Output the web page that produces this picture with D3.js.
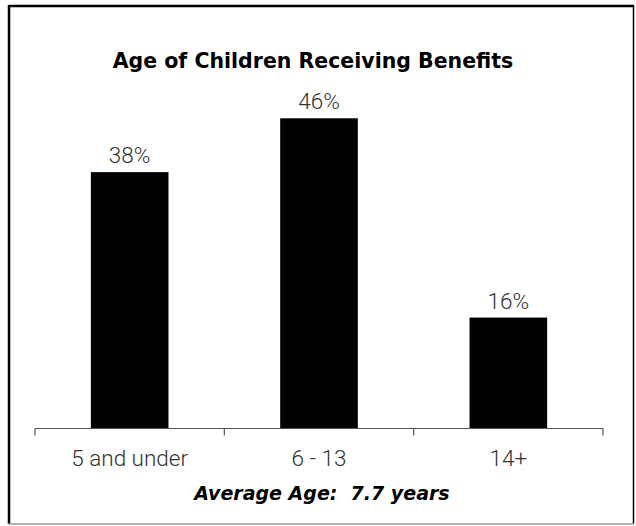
<!DOCTYPE html>
<html><head><meta charset="utf-8">
<script src="https://cdn.jsdelivr.net/npm/d3@7"></script>
<style>body{margin:0;background:#fff}svg{display:block}</style>
</head><body>
<svg id="c" width="636" height="526"></svg>
<script>
const categories = ["5 and under", "6 - 13", "14+"];
const values = [38.0, 46.0, 16.4];
const valueLabels = ["38%", "46%", "16%"];
const title = "Age of Children Receiving Benefits";
const footnote = "Average Age:  7.7 years";

const svg = d3.select("#c");
// frame
svg.append("line").attr("x1",9).attr("x2",634).attr("y1",6).attr("y2",6).attr("stroke","#000").attr("stroke-width",2.5);
svg.append("line").attr("x1",9).attr("x2",9).attr("y1",5).attr("y2",524).attr("stroke","#000").attr("stroke-width",2.5);
svg.append("line").attr("x1",633.5).attr("x2",633.5).attr("y1",5).attr("y2",524).attr("stroke","#000").attr("stroke-width",1.5);
svg.append("line").attr("x1",8).attr("x2",634).attr("y1",524).attr("y2",524).attr("stroke","#999").attr("stroke-width",1.5);

const x = d3.scaleBand().domain(categories).range([35, 603]).paddingInner(0.59).paddingOuter(0.295);
const y = d3.scaleLinear().domain([0, 50]).range([428, 91.35]);

svg.append("g").selectAll("rect").data(values).join("rect")
  .attr("x",(d,i)=>x(categories[i])).attr("width",x.bandwidth())
  .attr("y",d=>y(d)).attr("height",d=>y(0)-y(d)).attr("fill","#000");

svg.append("g").selectAll("text").data(values).join("text")
  .attr("x",(d,i)=>x(categories[i])+x.bandwidth()/2).attr("y",d=>y(d)-9)
  .attr("text-anchor","middle").attr("font-family","Roboto").attr("font-weight",300)
  .attr("font-size",22.5).attr("fill","#333").text((d,i)=>valueLabels[i]);

// axis
const xa = d3.scaleLinear().domain([0,3]).range([35,603]);
const ax = svg.append("g").attr("transform","translate(0,428.5)");
ax.append("line").attr("x1",35).attr("x2",603).attr("stroke","#555").attr("stroke-width",1.2);
ax.selectAll("line.t").data(d3.range(4)).join("line").attr("class","t")
  .attr("x1",d=>xa(d)).attr("x2",d=>xa(d)).attr("y1",0).attr("y2",7).attr("stroke","#555").attr("stroke-width",1.2);
svg.append("g").selectAll("text").data(categories).join("text")
  .attr("x",d=>x(d)+x.bandwidth()/2).attr("y",466).attr("text-anchor","middle")
  .attr("font-family","Roboto").attr("font-weight",300).attr("font-size",22.5).attr("fill","#333").text(d=>d);

svg.append("text").attr("x",313).attr("y",68).attr("text-anchor","middle")
  .attr("font-family","DejaVu Sans").attr("font-weight","bold").attr("font-size",20.5)
  .attr("fill","#000").text(title);
svg.append("text").attr("x",322).attr("y",500).attr("text-anchor","middle")
  .attr("font-family","DejaVu Sans").attr("font-weight","bold").attr("font-style","italic").attr("font-size",19)
  .attr("fill","#000").attr("xml:space","preserve").style("white-space","pre").text(footnote);
</script>
</body></html>
